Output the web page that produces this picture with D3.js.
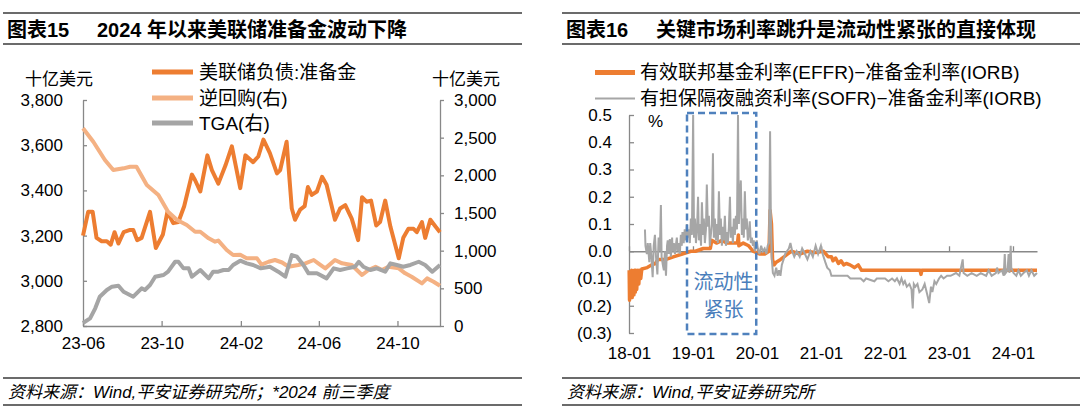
<!DOCTYPE html>
<html>
<head>
<meta charset="utf-8">
<script src="https://cdn.jsdelivr.net/npm/d3@7"></script>
<style>
    body { margin: 0; background: #fff; }
    svg text { font-family: "Liberation Sans", Arial, "Noto Sans CJK SC", sans-serif; fill: #000; }
</style>
</head>
<body>
<svg id="chart" width="1080" height="415"></svg>
<script>
// ---------- chart 15 data (十亿美元) ----------
var resDates = ["2023-06-01","2023-06-09","2023-06-16","2023-06-22","2023-06-30","2023-07-08","2023-07-14","2023-07-20","2023-07-26","2023-08-03",
    "2023-08-13","2023-08-18","2023-08-24","2023-08-31","2023-09-13","2023-09-22","2023-10-03","2023-10-10","2023-10-19","2023-10-27",
    "2023-11-05","2023-11-17","2023-11-22","2023-11-30","2023-12-11","2023-12-18","2023-12-28","2024-01-08","2024-01-18","2024-01-31",
    "2024-02-08","2024-02-20","2024-02-28","2024-03-07","2024-03-17","2024-03-28","2024-04-02","2024-04-12","2024-04-20","2024-04-25",
    "2024-05-03","2024-05-10","2024-05-15","2024-05-21","2024-05-29","2024-06-06","2024-06-13","2024-06-26","2024-07-04","2024-07-12",
    "2024-07-22","2024-08-01","2024-08-07","2024-08-14","2024-08-21","2024-08-29","2024-09-04","2024-09-12","2024-09-20","2024-10-03",
    "2024-10-10","2024-10-18","2024-10-26","2024-10-31","2024-11-08","2024-11-13","2024-11-21","2024-11-29","2024-12-06"];
var resVals = [3200,3305,3305,3190,3175,3175,3160,3215,3165,3215,
    3225,3225,3180,3190,3305,3145,3205,3305,3255,3260,
    3330,3470,3445,3395,3555,3490,3430,3510,3595,3410,
    3555,3525,3550,3625,3565,3475,3490,3615,3320,3270,
    3315,3330,3415,3380,3395,3460,3425,3270,3320,3335,
    3275,3180,3370,3350,3355,3245,3260,3355,3240,3100,
    3190,3230,3230,3215,3260,3190,3270,3240,3215];

var rrpDates = ["2023-06-01","2023-06-17","2023-07-05","2023-07-18","2023-08-03","2023-08-13","2023-08-23","2023-09-08","2023-09-26","2023-10-11",
    "2023-10-25","2023-11-09","2023-11-22","2023-11-30","2023-12-13","2023-12-23","2023-12-28","2024-01-10","2024-01-20","2024-01-31",
    "2024-02-10","2024-02-26","2024-03-04","2024-03-15","2024-03-25","2024-04-05","2024-04-15","2024-04-30","2024-05-11","2024-05-24",
    "2024-05-31","2024-06-11","2024-06-26","2024-07-07","2024-07-22","2024-08-07","2024-08-17","2024-08-28","2024-09-07","2024-09-17",
    "2024-10-03","2024-10-13","2024-10-23","2024-11-08","2024-11-16","2024-11-26","2024-12-06"];
var rrpVals = [2625,2446,2203,2070,2093,2114,2114,1871,1738,1517,
    1407,1340,1251,1251,1164,1119,1134,1009,942,945,
    898,898,815,853,876,843,787,810,832,876,
    832,765,876,832,810,677,743,787,743,787,
    765,699,654,566,632,588,535];

var tgaDates = ["2023-06-01","2023-06-12","2023-06-20","2023-06-27","2023-07-08","2023-07-16","2023-07-26","2023-08-03","2023-08-18","2023-08-31",
    "2023-09-05","2023-09-13","2023-09-21","2023-10-04","2023-10-11","2023-10-22","2023-10-27","2023-11-04","2023-11-12","2023-11-17",
    "2023-11-30","2023-12-13","2023-12-20","2023-12-28","2024-01-05","2024-01-13","2024-01-20","2024-01-31","2024-02-10","2024-02-20",
    "2024-03-03","2024-03-17","2024-03-30","2024-04-10","2024-04-20","2024-04-28","2024-05-08","2024-05-16","2024-05-29","2024-06-13",
    "2024-06-24","2024-07-04","2024-07-15","2024-07-27","2024-08-02","2024-08-09","2024-08-20","2024-08-30","2024-09-12","2024-09-20",
    "2024-09-30","2024-10-10","2024-10-21","2024-11-03","2024-11-13","2024-11-24","2024-12-06"];
var tgaVals = [40,102,235,389,478,522,535,455,389,500,
    478,544,654,677,721,853,853,765,765,654,
    743,632,721,721,743,743,810,867,832,810,
    765,787,721,654,942,920,810,699,699,632,
    765,743,765,787,853,787,743,765,721,832,
    810,787,810,853,810,721,810];

var ticks15 = ["2023-06-01","2023-10-01","2024-02-01","2024-06-01","2024-10-01"];
var leftTicks15 = [2800,3000,3200,3400,3600,3800];
var rightTicks15 = [0,500,1000,1500,2000,2500,3000];

// ---------- chart 16 data (%) ----------
var effrDates = ["2018-01-02","2018-01-04","2018-01-08","2018-01-11","2018-01-16","2018-01-19","2018-01-24","2018-01-29","2018-02-01","2018-02-06",
    "2018-02-09","2018-02-14","2018-02-20","2018-02-26","2018-03-02","2018-03-09","2018-03-15","2018-04-15","2018-05-10","2018-06-01",
    "2018-06-15","2018-08-01","2018-09-15","2018-11-01","2018-12-20","2019-01-15","2019-03-01","2019-04-10","2019-04-18","2019-05-15",
    "2019-06-15","2019-07-15","2019-08-15","2019-09-12","2019-09-17","2019-09-20","2019-10-15","2019-11-15","2019-12-10","2020-01-15",
    "2020-02-15","2020-03-10","2020-03-16","2020-03-24","2020-03-30","2020-04-08","2020-04-20","2020-05-15","2020-06-05","2020-06-25",
    "2020-07-15","2020-09-01","2020-10-15","2020-12-01","2021-01-15","2021-02-10","2021-03-01","2021-03-10","2021-03-25","2021-04-10",
    "2021-04-25","2021-05-10","2021-05-25","2021-06-15","2021-07-10","2021-08-01","2021-08-20","2022-07-20","2022-07-25","2022-07-30",
    "2024-05-17"];
var effrVals = [-0.07,-0.18,-0.08,-0.17,-0.07,-0.17,-0.08,-0.16,-0.07,-0.15,
    -0.07,-0.14,-0.07,-0.12,-0.07,-0.10,-0.065,-0.06,-0.05,-0.045,
    -0.03,-0.03,-0.02,-0.01,0.0,0.0,0.01,0.01,0.04,0.03,
    0.04,0.03,0.03,0.03,0.06,0.02,0.03,0.02,0.0,-0.01,
    -0.01,0.0,0.15,0.10,-0.03,-0.05,-0.04,-0.03,-0.02,-0.01,
    0.0,-0.01,0.0,-0.005,0.0,-0.02,-0.02,-0.035,-0.025,-0.045,
    -0.035,-0.05,-0.045,-0.05,-0.06,-0.05,-0.07,-0.07,-0.085,-0.07,
    -0.07];

var sofrDates = ["2018-04-02","2018-04-05","2018-04-13","2018-04-18","2018-04-27","2018-05-02","2018-05-09","2018-05-16","2018-05-22","2018-05-29",
    "2018-06-04","2018-06-12","2018-06-19","2018-06-26","2018-07-02","2018-07-06","2018-07-13","2018-07-19","2018-07-25","2018-07-31",
    "2018-08-06","2018-08-10","2018-08-16","2018-08-22","2018-08-28","2018-09-04","2018-09-07","2018-09-14","2018-09-20","2018-09-25",
    "2018-10-01","2018-10-05","2018-10-12","2018-10-18","2018-10-24","2018-10-29","2018-11-02","2018-11-09","2018-11-15","2018-11-21",
    "2018-11-27","2018-12-03","2018-12-07","2018-12-14","2018-12-20","2018-12-26",
    "2019-01-02","2019-01-07","2019-01-12","2019-01-18","2019-01-24","2019-01-30","2019-02-04","2019-02-10","2019-02-16","2019-02-21",
    "2019-02-27","2019-03-04","2019-03-10","2019-03-16","2019-03-21","2019-03-27","2019-04-02","2019-04-07","2019-04-13","2019-04-19",
    "2019-04-25","2019-04-30","2019-05-06","2019-05-12","2019-05-17","2019-05-23","2019-05-29","2019-06-04","2019-06-09","2019-06-15",
    "2019-06-21","2019-06-26","2019-07-02","2019-07-08","2019-07-14","2019-07-19","2019-07-25","2019-07-31","2019-08-05","2019-08-11",
    "2019-08-17","2019-08-22","2019-08-28","2019-09-03","2019-09-09","2019-09-15","2019-09-20","2019-09-26","2019-10-01","2019-10-07",
    "2019-10-13","2019-10-18","2019-10-24","2019-10-30","2019-11-04","2019-11-10","2019-11-16","2019-11-21","2019-11-27","2019-12-03",
    "2019-12-09","2019-12-14","2019-12-20","2019-12-26","2019-12-31",
    "2020-01-06","2020-01-15","2020-01-25","2020-02-03","2020-02-14","2020-02-24","2020-03-02","2020-03-10","2020-03-16","2020-03-20",
    "2020-03-25","2020-04-01","2020-04-10","2020-04-20","2020-04-28","2020-05-06","2020-05-14","2020-05-22","2020-06-01","2020-06-10",
    "2020-06-20","2020-07-01","2020-07-10","2020-07-20","2020-08-01","2020-08-15","2020-09-01","2020-09-15","2020-10-01","2020-10-15",
    "2020-11-01","2020-11-15","2020-12-01","2020-12-15","2020-12-31","2021-01-10","2021-01-25","2021-02-05","2021-02-20","2021-03-01",
    "2021-04-01","2021-05-01","2021-06-01","2021-06-17","2021-08-15","2021-09-01","2021-09-15","2021-11-01","2021-11-15","2022-01-01",
    "2022-01-20","2022-02-10","2022-02-26","2022-03-10","2022-03-25","2022-04-05","2022-04-15","2022-04-24","2022-05-05","2022-05-20",
    "2022-06-01","2022-06-08","2022-06-14","2022-06-23","2022-07-05","2022-07-16","2022-08-02","2022-08-15","2022-08-30","2022-09-10",
    "2022-09-20","2022-09-28","2022-10-10","2022-10-20","2022-11-05","2022-11-17","2022-12-01","2022-12-21","2023-01-10","2023-02-10",
    "2023-03-01","2023-03-20","2023-03-25","2023-04-15","2023-05-10","2023-06-08","2023-07-01","2023-08-01","2023-08-15","2023-09-01",
    "2023-09-25","2023-10-02","2023-10-10","2023-10-30","2023-11-09","2023-11-15","2023-11-20","2023-12-01","2023-12-07","2023-12-12",
    "2023-12-19","2023-12-22","2024-01-04","2024-01-20","2024-02-01","2024-02-15","2024-03-01","2024-03-20","2024-04-01","2024-04-15",
    "2024-05-01","2024-05-17"];
var sofrVals = [0.08,0.02,-0.01,0.03,-0.04,0.03,-0.02,-0.095,0.02,0.06,
    -0.02,-0.085,0.05,0.0,0.17,-0.02,-0.05,-0.07,0.0,-0.09,
    0.02,0.04,-0.01,0.045,-0.02,0.05,0.0,0.03,-0.01,0.02,
    0.05,0.0,0.03,-0.01,0.06,0.02,0.07,0.03,0.08,0.04,
    0.10,0.05,0.08,0.03,0.12,0.06,
    0.50,0.05,0.12,0.03,0.08,0.20,0.04,0.10,0.02,0.18,
    0.06,0.12,0.03,0.08,0.245,0.09,0.13,0.02,0.06,0.10,
    0.36,0.05,0.12,0.04,0.10,0.03,0.22,0.06,0.12,0.02,
    0.09,0.04,0.13,0.02,0.07,0.03,0.09,0.20,0.05,0.09,
    0.03,0.12,0.06,0.13,0.08,0.50,0.10,0.20,0.26,0.06,
    0.12,0.05,0.22,0.08,0.12,0.04,0.06,0.11,0.03,0.05,
    0.02,0.04,0.0,0.02,0.04,
    0.01,-0.01,0.02,0.0,0.01,-0.01,0.02,0.03,0.44,0.15,
    -0.02,-0.08,-0.09,-0.06,-0.09,-0.07,-0.09,-0.05,-0.03,-0.01,
    0.0,0.01,0.03,0.0,-0.02,0.0,-0.02,0.01,-0.01,-0.03,
    0.0,-0.02,0.02,-0.01,0.02,-0.01,-0.04,-0.06,-0.07,-0.09,
    -0.09,-0.09,-0.09,-0.10,-0.10,-0.11,-0.10,-0.11,-0.10,-0.10,
    -0.11,-0.10,-0.11,-0.10,-0.12,-0.10,-0.12,-0.11,-0.13,-0.12,
    -0.14,-0.21,-0.12,-0.13,-0.12,-0.15,-0.14,-0.12,-0.16,-0.19,
    -0.13,-0.15,-0.11,-0.12,-0.10,-0.09,-0.10,-0.09,-0.09,-0.08,
    -0.09,-0.03,-0.08,-0.09,-0.08,-0.09,-0.08,-0.09,-0.07,-0.09,
    -0.08,-0.06,-0.08,-0.07,-0.09,-0.01,-0.08,-0.07,-0.01,-0.08,
    0.02,-0.06,-0.08,-0.09,-0.07,-0.09,-0.08,-0.07,-0.09,-0.07,
    -0.09,-0.08];

var ticks16 = ["2018-01-01","2019-01-01","2020-01-01","2021-01-01","2022-01-01","2023-01-01","2024-01-01"];
var yTicks16 = [0.5,0.4,0.3,0.2,0.1,0.0,-0.1,-0.2,-0.3];
var tightBox = ["2018-11-28","2019-12-28"];

var parse = d3.timeParse("%Y-%m-%d");
var axisColor = "#888888";
var svg = d3.select("#chart");

function pairs(dates, vals) {
    return dates.map(function (d, i) { return { date: parse(d), v: vals[i] }; });
}

function styleAxis(g) {
    g.selectAll(".domain").attr("stroke", axisColor).attr("stroke-width", 1.3);
    g.selectAll(".tick line").attr("stroke", axisColor).attr("stroke-width", 1.3);
    g.selectAll("text").attr("font-size", 17).attr("fill", "#000");
}

function frame(x0, x1, title1, title2, source) {
    // title band
    svg.append("line").attr("x1", x0).attr("x2", x1).attr("y1", 13).attr("y2", 13)
        .attr("stroke", "#3a3a3a").attr("stroke-width", 1.6);
    svg.append("line").attr("x1", x0).attr("x2", x1).attr("y1", 44).attr("y2", 44)
        .attr("stroke", "#3a3a3a").attr("stroke-width", 1.6);
    svg.append("text").attr("x", x0 + 4).attr("y", 30).attr("dy", "0.36em")
        .attr("font-size", 20).attr("font-weight", "bold").text(title1);
    svg.append("text").attr("x", x0 + 94).attr("y", 30).attr("dy", "0.36em")
        .attr("font-size", 20).attr("font-weight", "bold").text(title2);
    // source band
    svg.append("line").attr("x1", x0).attr("x2", x1).attr("y1", 378).attr("y2", 378)
        .attr("stroke", "#3a3a3a").attr("stroke-width", 1.6);
    svg.append("line").attr("x1", x0).attr("x2", x1).attr("y1", 405).attr("y2", 405)
        .attr("stroke", "#3a3a3a").attr("stroke-width", 1.6);
    svg.append("text").attr("x", x0 + 5).attr("y", 392).attr("dy", "0.36em")
        .attr("font-size", 17).attr("font-style", "italic").attr("fill", "#222").text(source);
}

// ================= chart 15 =================
function renderLeft() {
    frame(3, 522, "图表15", "2024 年以来美联储准备金波动下降", "资料来源：Wind,平安证券研究所；*2024 前三季度");

    var x = d3.scaleTime().domain([parse("2023-06-01"), parse("2024-12-06")]).range([83, 440]);
    var yL = d3.scaleLinear().domain([2800, 3800]).range([326, 100]);
    var yR = d3.scaleLinear().domain([0, 3000]).range([326, 100]);

    svg.append("g").attr("transform", "translate(0,326)")
        .call(d3.axisBottom(x).tickValues(ticks15.map(parse)).tickSize(-5).tickSizeOuter(0)
            .tickPadding(11).tickFormat(d3.timeFormat("%y-%m")))
        .call(styleAxis);
    svg.append("g").attr("transform", "translate(83,0)")
        .call(d3.axisLeft(yL).tickValues(leftTicks15).tickSize(-4).tickSizeOuter(0)
            .tickPadding(20).tickFormat(d3.format(",")))
        .call(styleAxis);
    svg.append("g").attr("transform", "translate(440,0)")
        .call(d3.axisRight(yR).tickValues(rightTicks15).tickSize(4).tickSizeOuter(0)
            .tickPadding(10).tickFormat(d3.format(",")))
        .call(styleAxis);

    var lineL = d3.line().x(function (d) { return x(d.date); }).y(function (d) { return yL(d.v); });
    var lineR = d3.line().x(function (d) { return x(d.date); }).y(function (d) { return yR(d.v); });

    svg.append("path").datum(pairs(resDates, resVals)).attr("d", lineL)
        .attr("fill", "none").attr("stroke", "#ED7D31").attr("stroke-width", 4).attr("stroke-linejoin", "round");
    svg.append("path").datum(pairs(rrpDates, rrpVals)).attr("d", lineR)
        .attr("fill", "none").attr("stroke", "#F4B183").attr("stroke-width", 4).attr("stroke-linejoin", "round");
    svg.append("path").datum(pairs(tgaDates, tgaVals)).attr("d", lineR)
        .attr("fill", "none").attr("stroke", "#A5A5A5").attr("stroke-width", 4).attr("stroke-linejoin", "round");

    svg.append("text").attr("x", 25).attr("y", 79).attr("dy", "0.36em").attr("font-size", 17).text("十亿美元");
    svg.append("text").attr("x", 432).attr("y", 79).attr("dy", "0.36em").attr("font-size", 17).text("十亿美元");

    var legend = [
        { name: "美联储负债:准备金", color: "#ED7D31", y: 72 },
        { name: "逆回购(右)", color: "#F4B183", y: 98 },
        { name: "TGA(右)", color: "#A5A5A5", y: 123 }
    ];
    var lg = svg.selectAll(".lg15").data(legend).enter().append("g").attr("class", "lg15");
    lg.append("line").attr("x1", 152).attr("x2", 193)
        .attr("y1", function (d) { return d.y; }).attr("y2", function (d) { return d.y; })
        .attr("stroke", function (d) { return d.color; }).attr("stroke-width", 5);
    lg.append("text").attr("x", 199).attr("y", function (d) { return d.y; }).attr("dy", "0.36em")
        .attr("font-size", 19).text(function (d) { return d.name; });
}

// ================= chart 16 =================
function renderRight() {
    frame(562, 1080, "图表16", "关键市场利率跳升是流动性紧张的直接体现", "资料来源：Wind,平安证券研究所");

    var x = d3.scaleTime().domain([parse("2018-01-01"), parse("2024-05-17")]).range([629, 1037]);
    var y = d3.scaleLinear().domain([-0.3, 0.5]).range([333, 115]);

    // zero line with year ticks
    svg.append("g").attr("transform", "translate(0," + y(0) + ")")
        .call(d3.axisBottom(x).tickValues(ticks16.map(parse)).tickSize(-5).tickSizeOuter(0).tickFormat(""))
        .call(styleAxis);
    // labels along the bottom
    var xb = svg.append("g").attr("transform", "translate(0,333)")
        .call(d3.axisBottom(x).tickValues(ticks16.map(parse)).tickSize(0).tickPadding(14)
            .tickFormat(d3.timeFormat("%y-%m")))
        .call(styleAxis);
    xb.select(".domain").remove();

    var ya = svg.append("g").attr("transform", "translate(629,0)")
        .call(d3.axisLeft(y).tickValues(yTicks16).tickSize(-5).tickSizeOuter(0).tickPadding(17)
            .tickFormat(function (d) { return d < 0 ? "(" + Math.abs(d).toFixed(1) + ")" : d.toFixed(1); }))
        .call(styleAxis);
    ya.selectAll(".tick text").attr("fill", function (d) { return d < 0 ? "#FF0000" : "#000"; });

    svg.append("text").attr("x", 648).attr("y", 121).attr("dy", "0.36em").attr("font-size", 17).text("%");

    var line = d3.line().x(function (d) { return x(d.date); }).y(function (d) { return y(d.v); });

    svg.append("path").datum(pairs(effrDates, effrVals)).attr("d", line)
        .attr("fill", "none").attr("stroke", "#ED7D31").attr("stroke-width", 3.5).attr("stroke-linejoin", "round");
    svg.append("path").datum(pairs(sofrDates, sofrVals)).attr("d", line)
        .attr("fill", "none").attr("stroke", "#A6A6A6").attr("stroke-width", 2);

    // dashed annotation box
    var bx0 = x(parse(tightBox[0])), bx1 = x(parse(tightBox[1]));
    svg.append("rect").attr("x", bx0).attr("y", y(0.5) - 2)
        .attr("width", bx1 - bx0).attr("height", y(-0.3) - y(0.5) + 3)
        .attr("fill", "none").attr("stroke", "#4F81BD").attr("stroke-width", 2.5)
        .attr("stroke-dasharray", "7,4");
    var cx = (bx0 + bx1) / 2 + 2;
    svg.append("text").attr("x", cx).attr("y", 282).attr("dy", "0.36em").attr("text-anchor", "middle")
        .attr("font-size", 20).style("fill", "#4A7EBB").text("流动性");
    svg.append("text").attr("x", cx).attr("y", 310).attr("dy", "0.36em").attr("text-anchor", "middle")
        .attr("font-size", 20).style("fill", "#4A7EBB").text("紧张");

    var legend = [
        { name: "有效联邦基金利率(EFFR)−准备金利率(IORB)", color: "#ED7D31", w: 5, y: 72.5 },
        { name: "有担保隔夜融资利率(SOFR)−准备金利率(IORB)", color: "#A6A6A6", w: 2, y: 98.5 }
    ];
    var lg = svg.selectAll(".lg16").data(legend).enter().append("g").attr("class", "lg16");
    lg.append("line").attr("x1", 595).attr("x2", 635)
        .attr("y1", function (d) { return d.y; }).attr("y2", function (d) { return d.y; })
        .attr("stroke", function (d) { return d.color; }).attr("stroke-width", function (d) { return d.w; });
    lg.append("text").attr("x", 640).attr("y", function (d) { return d.y; }).attr("dy", "0.36em")
        .attr("font-size", 19).text(function (d) { return d.name; });
}

renderLeft();
renderRight();
</script>
</body>
</html>
